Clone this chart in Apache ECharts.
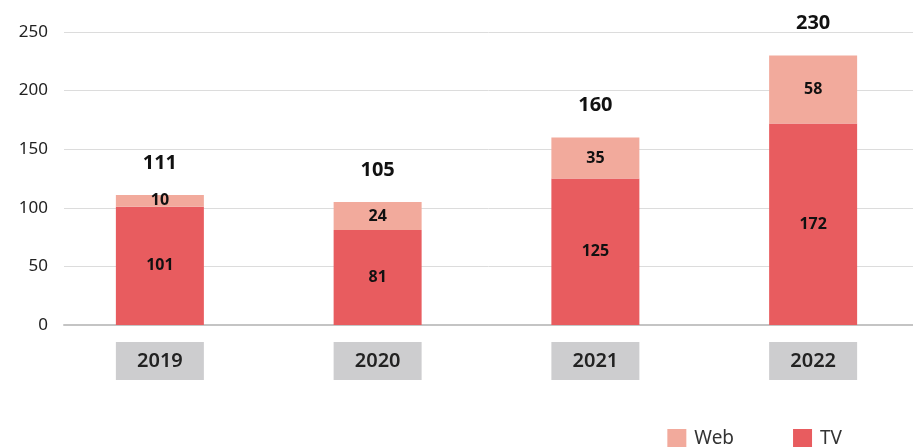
<!DOCTYPE html>
<html>
<head>
<meta charset="utf-8">
<script src="https://cdn.jsdelivr.net/npm/echarts@6/dist/echarts.min.js"></script>
<style>
  html, body { margin: 0; padding: 0; background: #fff; overflow: hidden; width: 913px; height: 447px; }
  #chart { width: 930px; height: 447px; }
</style>
</head>
<body>
<div id="chart"></div>
<script>
// data
const years = ['2019', '2020', '2021', '2022'];
const tv = [101, 81, 125, 172];
const web = [10, 24, 35, 58];
const totals = [111, 105, 160, 230];

const font = 'Noto Sans';
// chart div is a bit wider than the window so the last bar band can run past the edge
let myChart = echarts.init(document.getElementById('chart'));

const option = {
    animation: false,
    textStyle: { fontFamily: font },
    legend: {
        data: ['Web', 'TV'],
        right: 83,
        top: 424,
        itemWidth: 19,
        itemHeight: 19,
        itemGap: 59,
        icon: 'rect',
        textStyle: { fontSize: 19, color: '#333', fontFamily: font, padding: [0, 0, 0, 3] }
    },
    grid: [
        // gridlines + axis line
        { left: 64, right: 17, top: 32, height: 293 },
        // bars
        { left: 51, width: 871, top: 32, height: 293 }
    ],
    xAxis: [
        {
            type: 'category', gridIndex: 0, data: years,
            axisLine: { lineStyle: { color: '#c4c4c4', width: 2 } },
            axisTick: { show: false }, axisLabel: { show: false }
        },
        {
            type: 'category', gridIndex: 1, data: years,
            axisLine: { show: false }, axisTick: { show: false },
            axisLabel: {
                margin: 17,
                fontSize: 20,
                fontWeight: 600,
                color: '#222',
                fontFamily: font,
                backgroundColor: '#cdcdcf',
                width: 88,
                height: 38,
                lineHeight: 38,
                align: 'center'
            }
        }
    ],
    yAxis: [
        {
            type: 'value', gridIndex: 0, min: 0, max: 250, interval: 50,
            axisLine: { show: false }, axisTick: { show: false },
            axisLabel: { margin: 16, fontSize: 17, color: '#222', fontFamily: font },
            splitLine: { lineStyle: { color: '#dcdcdc', width: 1 } }
        },
        {
            type: 'value', gridIndex: 1, min: 0, max: 250, interval: 50,
            show: false, splitLine: { show: false }
        }
    ],
    series: [
        {
            name: 'TV', type: 'bar', stack: 'all', xAxisIndex: 1, yAxisIndex: 1,
            data: tv, barWidth: 88,
            itemStyle: { color: '#e85c5f' },
            label: { show: true, position: 'inside', fontSize: 16, fontWeight: 'bold', color: '#111', fontFamily: font }
        },
        {
            name: 'Web', type: 'bar', stack: 'all', xAxisIndex: 1, yAxisIndex: 1,
            data: web, barWidth: 88,
            itemStyle: { color: '#f2aa9c' },
            label: { show: true, position: 'inside', fontSize: 16, fontWeight: 'bold', color: '#111', fontFamily: font }
        },
        {
            // totals above the stacks
            name: 'total', type: 'scatter', xAxisIndex: 1, yAxisIndex: 1,
            data: totals, symbolSize: 0, silent: true,
            itemStyle: { opacity: 1 },
            label: {
                show: true, position: 'top', distance: 22,
                fontSize: 20, fontWeight: 'bold', color: '#111', fontFamily: font
            }
        }
    ]
};

myChart.setOption(option);
</script>
</body>
</html>
